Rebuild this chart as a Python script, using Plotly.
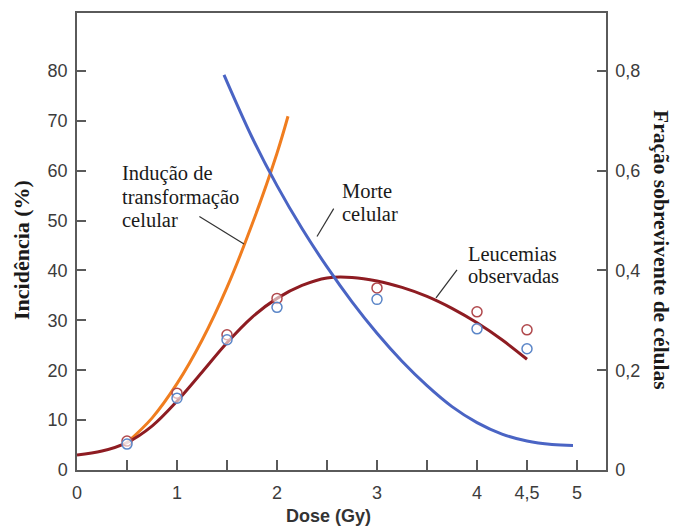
import plotly.graph_objects as go

# Dose axis ticks
tick_doses = [0, 0.5, 1, 1.5, 2, 2.5, 3, 3.5, 4, 4.5, 5]
tick_dose_text = ["0", "", "1", "", "2", "", "3", "", "4", "4,5", "5"]
incid_ticks = [0, 10, 20, 30, 40, 50, 60, 70, 80]
frac_ticks = [0, 0.2, 0.4, 0.6, 0.8]
frac_tick_text = ["0", "0,2", "0,4", "0,6", "0,8"]

# Fitted leukaemia incidence curve (%)
leuk_dose = [0, 0.25, 0.5, 0.75, 1.0, 1.25, 1.5, 1.75, 2.0, 2.25, 2.5, 2.75, 3.0, 3.25, 3.5, 3.75, 4.0, 4.25, 4.5]
leuk_incid = [3.0, 3.8, 5.5, 8.8, 13.8, 19.6, 25.5, 30.6, 34.4, 37.0, 38.5, 38.6, 37.9, 36.6, 34.8, 32.4, 29.5, 26.1, 22.2]

# Observed leukaemia points (two series)
obs_dose = [0.5, 1.0, 1.5, 2.0, 3.0, 4.0, 4.5]
obs_red = [5.8, 15.4, 27.1, 34.4, 36.5, 31.7, 28.1]
obs_blue = [5.2, 14.4, 26.1, 32.6, 34.2, 28.3, 24.3]

# Cell transformation induction (%)
transf_dose = [0.5, 0.75, 1.0, 1.25, 1.5, 1.75, 2.0, 2.11]
transf_incid = [5.5, 10.4, 17.3, 26.0, 36.6, 49.2, 63.5, 70.9]

# Surviving fraction of cells (cell death)
surv_dose = [1.47, 1.75, 2.0, 2.25, 2.5, 2.75, 3.0, 3.25, 3.5, 3.75, 4.0, 4.25, 4.5, 4.75, 4.96]
surv_frac = [0.792, 0.667, 0.570, 0.484, 0.407, 0.337, 0.274, 0.218, 0.169, 0.127, 0.095, 0.072, 0.058, 0.051, 0.049]

ORANGE = "#F07D1F"
BLUE = "#4A64C4"
DARKRED = "#8E1C22"
AXIS = "#5a5a5a"
TICKFONT = dict(family="Liberation Sans, Arial, sans-serif", size=18, color="#3c3c3c")
SERIF = "Liberation Serif, Times New Roman, serif"

W, H = 676, 530
L, R, T, B = 77, 70, 13, 60
pw, ph = W - L - R, H - T - B

fig = go.Figure()

fig.add_trace(go.Scatter(x=transf_dose, y=transf_incid, mode="lines",
                         line=dict(color=ORANGE, width=3, shape="spline"),
                         showlegend=False, hoverinfo="skip"))
fig.add_trace(go.Scatter(x=surv_dose, y=surv_frac, mode="lines", yaxis="y2",
                         line=dict(color=BLUE, width=3, shape="spline"),
                         showlegend=False, hoverinfo="skip"))
fig.add_trace(go.Scatter(x=leuk_dose, y=leuk_incid, mode="lines",
                         line=dict(color=DARKRED, width=3, shape="spline"),
                         showlegend=False, hoverinfo="skip"))
fig.add_trace(go.Scatter(x=obs_dose, y=obs_red, mode="markers",
                         marker=dict(symbol="circle", size=10, color="rgba(255,255,255,0.6)",
                                     line=dict(color="#B0484C", width=1.5)),
                         showlegend=False))
fig.add_trace(go.Scatter(x=obs_dose, y=obs_blue, mode="markers",
                         marker=dict(symbol="circle", size=10, color="rgba(255,255,255,0.6)",
                                     line=dict(color="#5B86C8", width=1.5)),
                         showlegend=False))

# Leader lines from the labels to the curves
leaders = [
    ((1.224, 50.8), (1.67, 45.3)),
    ((2.567, 52.4), (2.40, 46.8)),
    ((3.80, 40.1), (3.59, 34.5)),
]
for (x0, y0), (x1, y1) in leaders:
    fig.add_shape(type="line", x0=x0, y0=y0, x1=x1, y1=y1, xref="x", yref="y",
                  line=dict(color="#333333", width=1.2))


def label(text, x, y, size=20.5):
    fig.add_annotation(text=text, x=x, y=y, xref="x", yref="y", showarrow=False,
                       xanchor="left", yanchor="middle",
                       font=dict(family=SERIF, size=size, color="#1a1a1a"))


label("Indução de", 0.43, 59.5)
label("transformação", 0.43, 54.7)
label("celular", 0.43, 50.1)
label("Morte", 2.63, 56.0)
label("celular", 2.63, 51.4)
label("Leucemias", 3.89, 43.3)
label("observadas", 3.89, 38.8)


def title(text, px, py, angle, font):
    fig.add_annotation(text=text, x=(px - L) / pw, y=(H - B - py) / ph,
                       xref="paper", yref="paper", showarrow=False, textangle=angle,
                       xanchor="center", yanchor="middle", font=font)


title("<b>Incidência (%)</b>", 22, 250, -90, dict(family=SERIF, size=22, color="#1a1a1a"))
title("<b>Fração sobrevivente de células</b>", 661, 250, 90,
      dict(family=SERIF, size=21.5, color="#1a1a1a"))
title("<b>Dose (Gy)</b>", 328, 516, 0,
      dict(family="Liberation Sans, Arial, sans-serif", size=18, color="#333333"))

fig.update_layout(
    width=W, height=H,
    margin=dict(l=L, r=R, t=T, b=B, pad=0),
    paper_bgcolor="white", plot_bgcolor="white",
    showlegend=False,
    xaxis=dict(range=[0, 5.29], tickmode="array", tickvals=tick_doses, ticktext=tick_dose_text,
               ticks="inside", ticklen=10, tickwidth=1.5, tickcolor=AXIS,
               showline=True, linecolor=AXIS, linewidth=1.5, mirror=True,
               showgrid=False, zeroline=False, tickfont=TICKFONT, ticklabelstandoff=6),
    yaxis=dict(range=[0, 91.6], tickmode="array", tickvals=incid_ticks,
               ticks="inside", ticklen=9, tickwidth=1.5, tickcolor=AXIS,
               showline=True, linecolor=AXIS, linewidth=1.5, mirror=True,
               showgrid=False, zeroline=False, tickfont=TICKFONT, ticklabelstandoff=4),
    yaxis2=dict(range=[0, 0.916], overlaying="y", side="right", tickmode="array",
                tickvals=frac_ticks, ticktext=frac_tick_text,
                ticks="inside", ticklen=9, tickwidth=1.5, tickcolor=AXIS,
                showline=True, linecolor=AXIS, linewidth=1.5,
                showgrid=False, zeroline=False, tickfont=TICKFONT, ticklabelstandoff=4),
)

fig.write_html("out.html")
